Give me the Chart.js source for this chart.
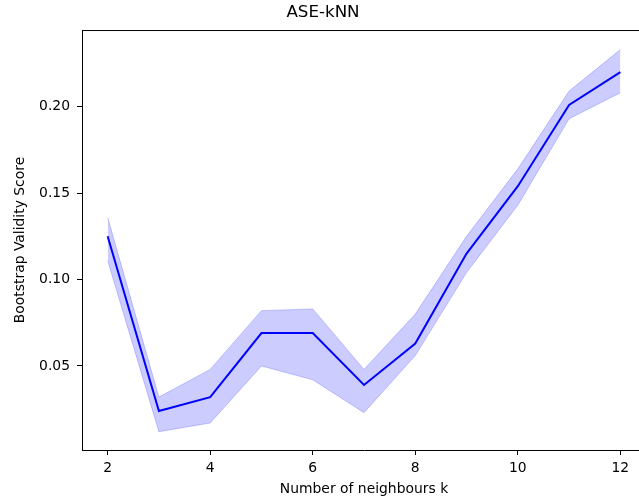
<!DOCTYPE html>
<html>
<head>
<meta charset="utf-8">
<title>ASE-kNN</title>
<script src="https://cdn.jsdelivr.net/npm/chart.js@4/dist/chart.umd.min.js"></script>
<style>
    html, body { margin: 0; padding: 0; background: #fff; overflow: hidden; }
    #wrap { width: 660px; height: 502px; position: relative; }
</style>
</head>
<body>
<div id="wrap"><canvas id="scoreChart"></canvas></div>
<script>
// --- Data ---
const kValues   = [2, 3, 4, 5, 6, 7, 8, 9, 10, 11, 12];
const meanScore = [0.125, 0.024, 0.032, 0.069, 0.069, 0.039, 0.063, 0.115, 0.154, 0.201, 0.220];
const upperBand = [0.136, 0.032, 0.048, 0.082, 0.083, 0.048, 0.080, 0.125, 0.164, 0.209, 0.233];
const lowerBand = [0.111, 0.012, 0.017, 0.050, 0.042, 0.023, 0.056, 0.104, 0.143, 0.193, 0.208];
const xTicks = [2, 4, 6, 8, 10, 12];
const yTicks = [0.05, 0.10, 0.15, 0.20];

const FONT = 'DejaVu Sans';
const toPoints = ys => kValues.map((k, i) => ({ x: k, y: ys[i] }));

// matplotlib-style frame: top and right spines
const framePlugin = {
    id: 'frame',
    afterDraw(chart) {
        const { ctx, chartArea: a } = chart;
        ctx.save();
        ctx.strokeStyle = '#000';
        ctx.lineWidth = 1;
        ctx.beginPath();
        ctx.moveTo(a.left, a.top + 0.5);
        ctx.lineTo(a.right, a.top + 0.5);
        ctx.lineTo(a.right, a.bottom);
        ctx.stroke();
        ctx.restore();
    }
};

new Chart(document.getElementById('scoreChart'), {
    type: 'line',
    data: {
        datasets: [
            {
                label: 'mean',
                data: toPoints(meanScore),
                borderColor: '#0000ff',
                borderWidth: 2,
                pointRadius: 0,
                fill: false,
                order: 0
            },
            {
                label: 'upper',
                data: toPoints(upperBand),
                borderColor: 'rgba(0,0,255,0.2)',
                backgroundColor: 'rgba(0,0,255,0.2)',
                borderWidth: 1,
                pointRadius: 0,
                fill: '+1',
                order: 1
            },
            {
                label: 'lower',
                data: toPoints(lowerBand),
                borderColor: 'rgba(0,0,255,0.2)',
                borderWidth: 1,
                pointRadius: 0,
                fill: false,
                order: 2
            }
        ]
    },
    options: {
        responsive: true,
        maintainAspectRatio: false,
        animation: false,
        layout: { padding: { left: 0, right: 14, top: 0, bottom: 0 } },
        plugins: {
            legend: { display: false },
            tooltip: { enabled: false },
            title: {
                display: true,
                text: 'ASE-kNN',
                color: '#000',
                font: { family: FONT, size: 16.7, weight: 'normal' },
                padding: { top: 3, bottom: 7 }
            }
        },
        scales: {
            x: {
                type: 'linear',
                min: 1.5,
                max: 12.5,
                afterFit: s => { s.height = 52; },
                afterBuildTicks: s => { s.ticks = xTicks.map(v => ({ value: v })); },
                grid: { display: true, drawOnChartArea: false, tickLength: 5, color: '#000', lineWidth: 1 },
                border: { display: true, color: '#000', width: 1 },
                ticks: {
                    color: '#000',
                    padding: 5,
                    maxRotation: 0,
                    font: { family: FONT, size: 13.9 },
                    callback: v => String(v)
                },
                title: {
                    display: true,
                    text: 'Number of neighbours k',
                    color: '#000',
                    font: { family: FONT, size: 13.9 },
                    padding: { top: 0, bottom: 4 }
                }
            },
            y: {
                type: 'linear',
                min: 0.0014,
                max: 0.2443,
                afterFit: s => { s.width = 82; },
                afterBuildTicks: s => { s.ticks = yTicks.map(v => ({ value: v })); },
                grid: { display: true, drawOnChartArea: false, tickLength: 5, color: '#000', lineWidth: 1 },
                border: { display: true, color: '#000', width: 1 },
                ticks: {
                    color: '#000',
                    padding: 7,
                    font: { family: FONT, size: 13.9 },
                    callback: v => v.toFixed(2)
                },
                title: {
                    display: true,
                    text: 'Bootstrap Validity Score',
                    color: '#000',
                    font: { family: FONT, size: 13.9 },
                    padding: { top: 12, bottom: 0 }
                }
            }
        }
    },
    plugins: [framePlugin]
});
</script>
</body>
</html>
